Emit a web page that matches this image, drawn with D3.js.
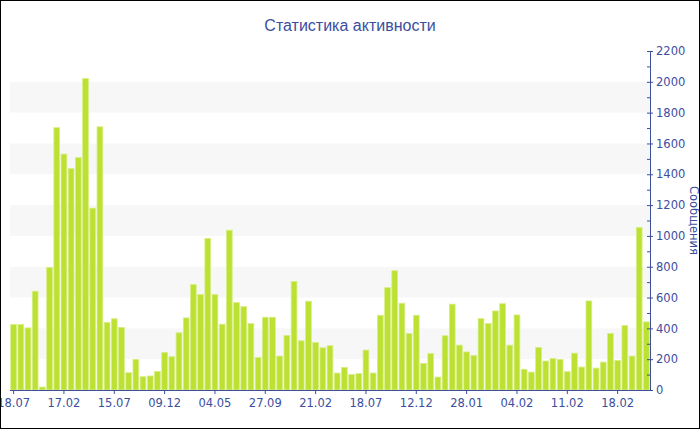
<!DOCTYPE html>
<html>
<head>
<meta charset="utf-8">
<script src="https://cdn.jsdelivr.net/npm/d3@7"></script>
<style>
  html, body { margin: 0; padding: 0; background: #fff; }
  svg { display: block; }
</style>
</head>
<body>
<svg id="chart" width="700" height="430"></svg>
<script>
const title = "Статистика активности";
const yTitle = "Сообщения";
const values = [
  425, 425, 403, 641, 19, 796, 1702, 1531, 1437, 1508, 2021, 1180, 1708, 438, 462,
  406, 112, 198, 86, 91, 121, 244, 216, 371, 468, 684, 619, 984, 619, 427,
  1037, 567, 541, 431, 211, 472, 472, 220, 354, 705, 319, 576, 308, 274, 287,
  110, 147, 101, 106, 259, 110, 485, 664, 774, 563, 367, 485, 173, 237, 84,
  352, 557, 291, 247, 224, 463, 431, 513, 560, 291, 487, 134, 116, 276, 188,
  204, 198, 119, 239, 149, 578, 142, 181, 367, 192, 418, 220, 1055, 442
];
const tickLabels = ["18.07", "17.02", "15.07", "09.12", "04.05", "27.09", "21.02",
                    "18.07", "12.12", "28.01", "04.02", "11.02", "18.02"];
const tickStep = 7;
const yTicks = [0, 200, 400, 600, 800, 1000, 1200, 1400, 1600, 1800, 2000, 2200];

const svg = d3.select("#chart");
const W = 700, H = 430;
const m = { left: 10, right: 50, top: 51, bottom: 40 };
const x0 = m.left, x1 = W - m.right, y0 = H - m.bottom, y1 = m.top;
const blue = "#3c4e9e";
const font = "'DejaVu Sans', Verdana, sans-serif";

const cats = values.map((_, i) => i);
const x = d3.scaleBand().domain(cats).range([x0, x1]).paddingInner(0.2).paddingOuter(0.1);
const y = d3.scaleLinear().domain([0, 2200]).range([y0, y1]);

// alternating bands
const bands = [];
for (let i = 1; i < yTicks.length - 1; i += 2) bands.push([yTicks[i], yTicks[i + 1]]);
svg.append("g").selectAll("rect").data(bands).join("rect")
  .attr("x", x0).attr("width", x1 - x0)
  .attr("y", d => y(d[1])).attr("height", d => y(d[0]) - y(d[1]))
  .attr("fill", "#f7f7f7");

// bars
svg.append("g").selectAll("rect").data(values).join("rect")
  .attr("x", (d, i) => x(i)).attr("width", x.bandwidth())
  .attr("y", d => y(d)).attr("height", d => y(0) - y(d))
  .attr("fill", "#bde132")
  .attr("stroke", "#d6ee84").attr("stroke-width", 0.8);

// x axis
const tickVals = tickLabels.map((_, k) => k * tickStep);
const xAxis = d3.axisBottom(x).tickValues(tickVals)
  .tickFormat((d, k) => tickLabels[k]).tickSize(4).tickSizeOuter(0);
const gx = svg.append("g").attr("transform", `translate(0,${y0})`).call(xAxis);
gx.select(".domain").attr("stroke", blue).attr("d", `M${x0},0.5H${x1}`);
gx.selectAll(".tick line").attr("stroke", blue);
gx.selectAll(".tick text").attr("fill", blue).attr("font-family", font)
  .attr("font-size", "11.5px").attr("dy", "0.85em");

// y axis (right)
const yAxis = d3.axisRight(y).tickValues(yTicks).tickFormat(d3.format("d"))
  .tickSize(3).tickSizeOuter(0).tickPadding(3);
const gy = svg.append("g").attr("transform", `translate(${x1},0)`).call(yAxis);
gy.select(".domain").attr("stroke", blue);
gy.selectAll(".tick line").attr("stroke", blue).attr("x1", -3);
gy.selectAll(".tick text").attr("fill", blue).attr("font-family", font).attr("font-size", "11.5px");
// minor ticks
const minor = d3.range(100, 2200, 200);
gy.append("g").selectAll("line").data(minor).join("line")
  .attr("x1", -3).attr("x2", 0).attr("y1", d => y(d) + 0.5).attr("y2", d => y(d) + 0.5)
  .attr("stroke", blue);

// y title
svg.append("text")
  .attr("transform", `translate(${W - 10},${(y0 + y1) / 2}) rotate(90)`)
  .attr("text-anchor", "middle").attr("fill", blue)
  .attr("font-family", font).attr("font-size", "11.5px")
  .text(yTitle);

// title
svg.append("text").attr("x", W / 2).attr("y", 31).attr("text-anchor", "middle")
  .attr("fill", blue).attr("font-family", "'Liberation Sans', Arial, sans-serif").attr("font-size", "16px")
  .text(title);

// border
svg.append("rect").attr("x", 0.5).attr("y", 0.5).attr("width", W - 1).attr("height", H - 2)
  .attr("fill", "none").attr("stroke", "#000");
</script>
</body>
</html>
